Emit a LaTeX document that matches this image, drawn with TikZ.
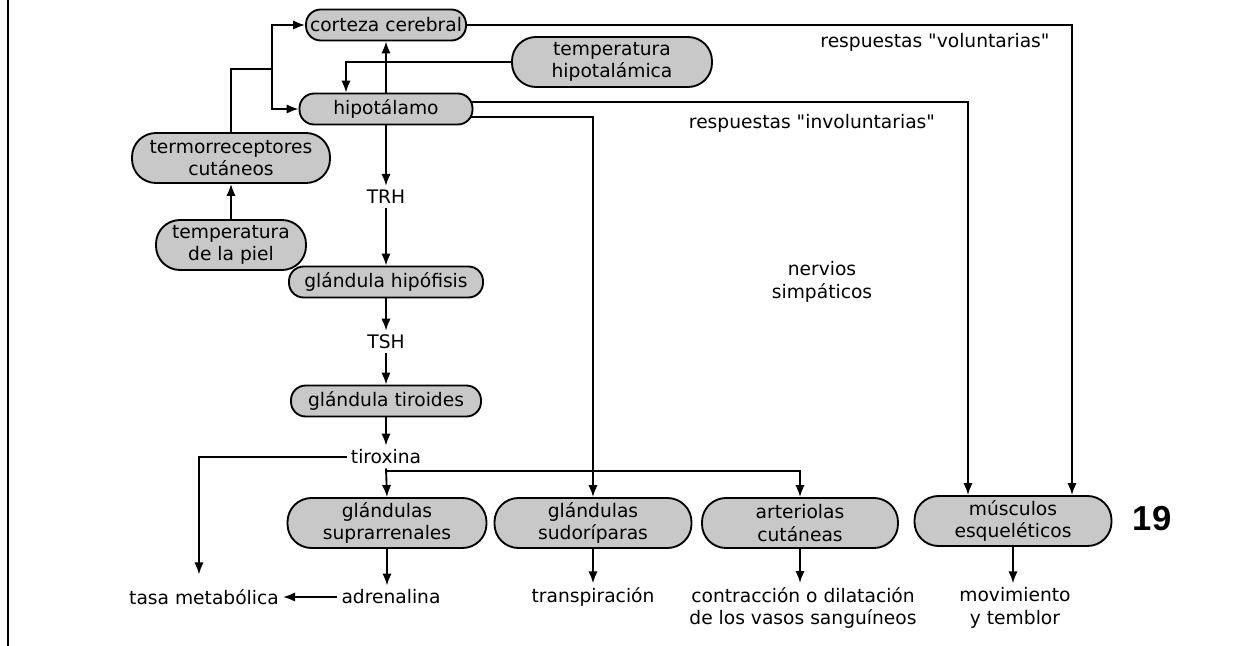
\documentclass[tikz,border=0pt]{standalone}
\usepackage{fontspec}
\setmainfont{DejaVu Sans}
\newfontfamily\qfont{DejaVu Sans}
\newfontfamily\numfont{Liberation Sans}
\usetikzlibrary{arrows.meta,calc}
\definecolor{boxgray}{RGB}{200,200,200}
\newdimen\pxu \pxu=0.75pt
% straight double quote, taken from a family without TeX ligature mapping
\newcommand\sq{{\qfont"}}
\begin{document}
\begin{tikzpicture}[x=0.75pt,y=-0.75pt,
  every node/.style={font=\fontsize{14}{17}\selectfont, align=center},
  tallbox/.style={draw=black, line width=1.4pt, fill=boxgray, rounded corners=18pt,
                  minimum height=50\pxu, inner sep=0pt},
  slimbox/.style={draw=black, line width=1.4pt, fill=boxgray, rounded corners=11pt,
                  minimum height=31\pxu, inner sep=0pt},
  plain/.style={inner sep=3pt},
  conn/.style={line width=1.4pt},
  arr/.style={conn, -{Latex[length=9pt,width=7pt]}}
]
\useasboundingbox (0,0) rectangle (1235,646);

% page edge rule
\draw[line width=1.8pt] (8,0) -- (8,646);

% organs
\node[slimbox, minimum width=160\pxu] (cort) at (386,25) {corteza cerebral};
\node[slimbox, minimum width=173\pxu] (hipo) at (386,109) {hipotálamo};
\node[tallbox, minimum width=200\pxu] (temph) at (612,62) {temperatura\\hipotalámica};
\node[tallbox, minimum width=198\pxu] (termo) at (231,158) {termorreceptores\\cutáneos};
\node[tallbox, minimum width=150\pxu] (piel) at (231,245) {temperatura\\de la piel};
\node[slimbox, minimum width=194\pxu] (hipof) at (386,282) {glándula hipófisis};
\node[slimbox, minimum width=190\pxu] (tiro) at (386,401) {glándula tiroides};
\node[tallbox, minimum width=199\pxu] (supra) at (387,523) {glándulas\\suprarrenales};
\node[tallbox, minimum width=197\pxu] (sudo) at (593,523) {glándulas\\sudoríparas};
\node[tallbox, minimum width=196\pxu] (arte) at (800,523) {arteriolas\\cutáneas};
\node[tallbox, minimum width=197\pxu] (musc) at (1013,521) {músculos\\esqueléticos};

% hormones and effects
\node[plain] (trh) at (386,197) {TRH};
\node[plain] (tsh) at (386,342) {TSH};
\node[plain] (tirox) at (386,457) {tiroxina};
\node[plain] (tasa) at (204,597) {tasa metabólica};
\node[plain] (adre) at (391,597) {adrenalina};
\node[plain] (transp) at (593,597) {transpiración};
\node[plain] (contr) at (803,608) {contracción o dilatación\\de los vasos sanguíneos};
\node[plain] (movim) at (1015,608) {movimiento\\y temblor};

% pathway labels
\node[plain] (vol) at (935,42) {respuestas \sq voluntarias\sq};
\node[plain] (invol) at (812,123) {respuestas \sq involuntarias\sq};
\node[plain] (nerv) at (822,282) {nervios\\simpáticos};
\node[font=\numfont\bfseries\fontsize{26}{30}\selectfont] (num) at (1152,519) {19};

% skin receptors to brain
\coordinate (j) at (272,69);
\draw[arr] (piel.north) -- (termo.south);
\draw[conn] (termo.north) |- (j);
\draw[arr] (j) |- (cort.west);
\draw[arr] (j) |- (hipo.west);
\draw[arr] (hipo.north) -- (cort.south);
\draw[arr] (temph.west) -| ($(hipo.north)+(-40,0)$);

% voluntary and involuntary responses
\draw[arr] (cort.east) -| ($(musc.north)+(59,0)$);
\draw[arr] ($(hipo.east)+(-3,-7)$) -| ($(musc.north)+(-45,0)$);
\draw[arr] ($(hipo.east)+(-3,8)$) -| (sudo.north);

% hormonal chain
\draw[arr] (hipo.south) -- (trh.north);
\draw[arr] (trh.south) -- (hipof.north);
\draw[arr] (hipof.south) -- (tsh.north);
\draw[arr] (tsh.south) -- (tiro.north);
\draw[arr] (tiro.south) -- (tirox.north);
\draw[arr] (tirox.south) -- (supra.north);
\coordinate (b) at (386,471);
\draw[arr] (b) -| (arte.north);
\draw[arr, shorten >=8pt] (tirox.west) -| ($(tasa.north)+(-5,0)$);

% effects
\draw[arr] (supra.south) -- (supra.south |- adre.north);
\draw[arr] (adre.west) -- (tasa.east);
\draw[arr] (sudo.south) -- (transp.north);
\draw[arr] (arte.south) -- (arte.south |- contr.north);
\draw[arr] (musc.south) -- (musc.south |- movim.north);
\end{tikzpicture}
\end{document}
